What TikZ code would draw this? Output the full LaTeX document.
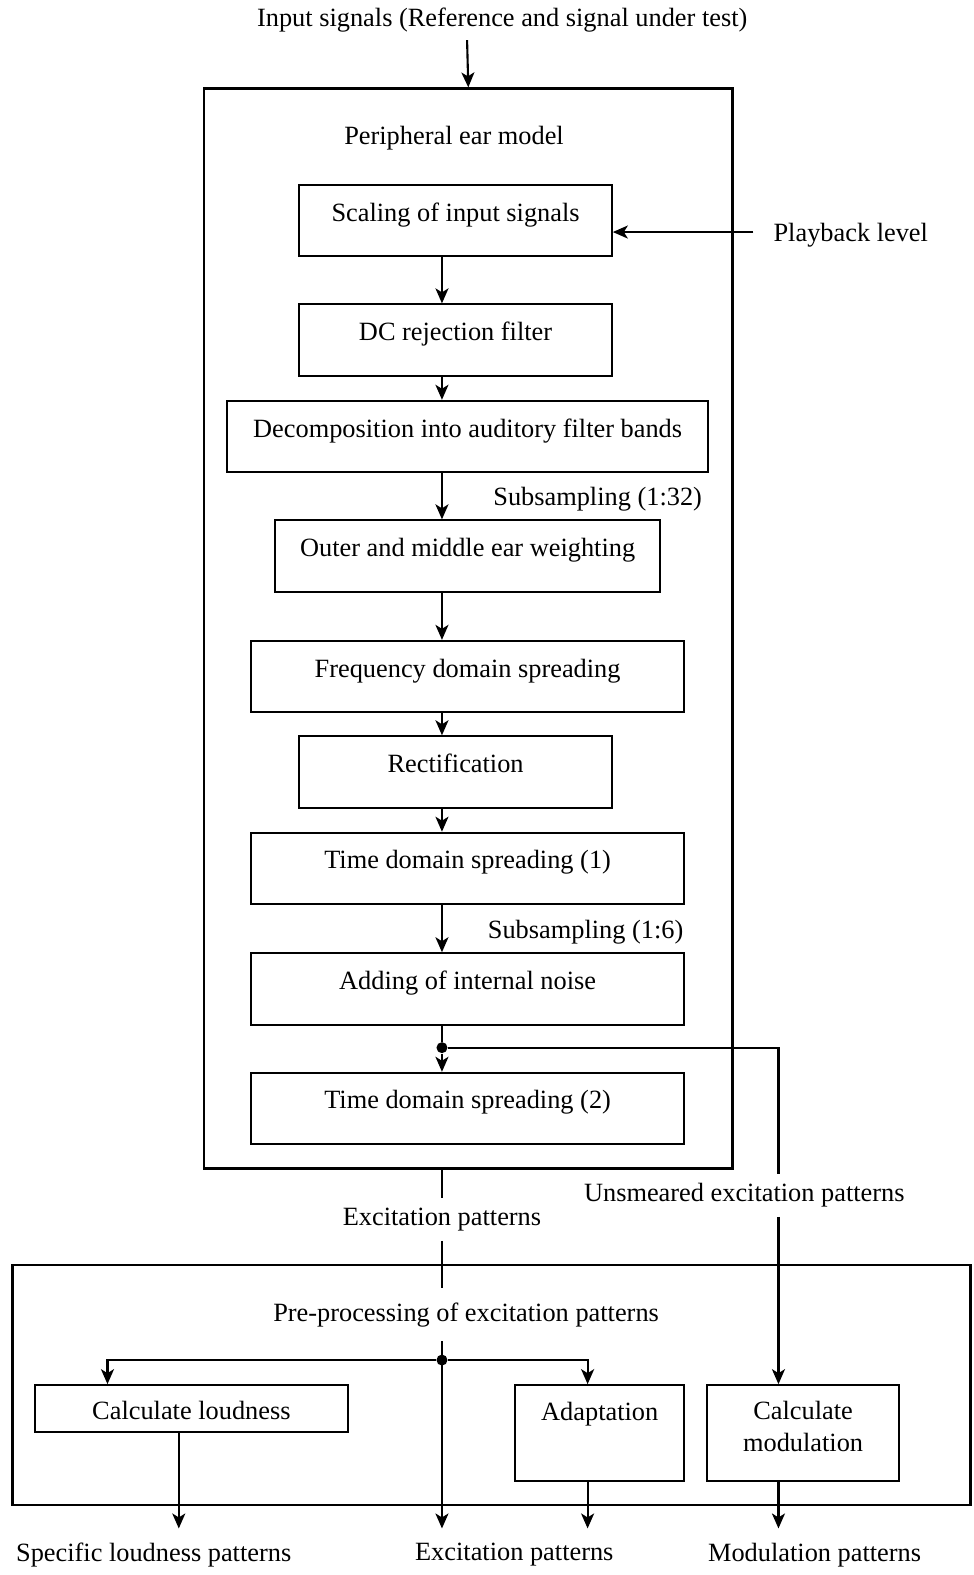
\documentclass[tikz,border=0pt]{standalone}
\usepackage{fontspec}
\setmainfont{Liberation Serif}
\usetikzlibrary{arrows.meta, positioning, calc}

\newcommand{\px}{0.0201cm}

\begin{document}
\begin{tikzpicture}[x=0.0201cm, y=-0.0201cm,
        font=\fontsize{15}{18}\selectfont,
        blk/.style={draw, line width=1.2pt, inner sep=0pt, anchor=north west,
                    text height=36*\px, text depth=35*\px},
        frame/.style={draw, line width=1.4pt, inner sep=0pt, anchor=north west},
        lbl/.style={inner sep=0pt},
        arr/.style={-{Stealth[length=0.3cm, width=0.26cm, inset=0.08cm]}, line width=1.2pt},
        ln/.style={line width=1.2pt},
        dot/.style={circle, fill, inner sep=0pt, minimum size=0.22cm}
    ]
    \useasboundingbox (0,0) rectangle (969,1568);

    % peripheral ear model
    \node[lbl] (title) at (500,20) {Input signals (Reference and signal under test)};
    \node[frame, minimum width=526*\px, minimum height=1075*\px] (outer) at (202,87) {};
    \node[lbl] (pem) at (452,138) {Peripheral ear model};

    \node[blk, minimum width=311*\px] (scale)  at (297,183)  {Scaling of input signals};
    \node[blk, minimum width=311*\px] (dc)     at (297,302)  {DC rejection filter};
    \node[blk, minimum width=479*\px] (decomp) at (225,398)  {Decomposition into auditory filter bands};
    \node[blk, minimum width=383*\px] (ome)    at (273,517)  {Outer and middle ear weighting};
    \node[blk, minimum width=431*\px] (fds)    at (249,637)  {Frequency domain spreading};
    \node[blk, minimum width=311*\px] (rect)   at (297,732)  {Rectification};
    \node[blk, minimum width=431*\px] (tds1)   at (249,828)  {Time domain spreading (1)};
    \node[blk, minimum width=431*\px] (noise)  at (249,948)  {Adding of internal noise};
    \node[blk, minimum width=431*\px] (tds2)   at (249,1067) {Time domain spreading (2)};

    \node[lbl] (pb)   at (847,234) {Playback level};
    \node[lbl] (sub1) at (595,497) {Subsampling (1:32)};
    \node[lbl] (sub2) at (583,928) {Subsampling (1:6)};

    \coordinate (spine)   at (440,0);
    \coordinate (inTop)   at (465,40);
    \coordinate (pbStart) at (750,231);

    \draw[arr] (inTop) -- (outer.north);
    \draw[arr] (pbStart) -- (scale.east |- pbStart);
    \draw[arr] (scale.south -| spine)  -- (dc.north -| spine);
    \draw[arr] (dc.south -| spine)     -- (decomp.north -| spine);
    \draw[arr] (decomp.south -| spine) -- (ome.north -| spine);
    \draw[arr] (ome.south -| spine)    -- (fds.north -| spine);
    \draw[arr] (fds.south -| spine)    -- (rect.north -| spine);
    \draw[arr] (rect.south -| spine)   -- (tds1.north -| spine);
    \draw[arr] (tds1.south -| spine)   -- (noise.north -| spine);

    \node[dot] (j1) at (440,1043) {};
    \coordinate (rbr) at (775,1043);
    \draw[ln]  (noise.south -| spine) -- (j1);
    \draw[arr] (j1) -- (tds2.north -| spine);

    % links between the two stages
    \node[lbl, minimum height=42*\px] (unsm) at (741,1190) {Unsmeared excitation patterns};
    \node[lbl, minimum height=42*\px] (exc)  at (440,1214) {Excitation patterns};
    \draw[ln] (j1) -- (rbr) -- (rbr |- unsm.north);
    \draw[ln] (outer.south -| spine) -- (exc.north);

    % pre-processing
    \node[frame, minimum width=954*\px, minimum height=239*\px] (pp) at (11,1258) {};
    \node[lbl, minimum height=52*\px] (pre) at (464,1309) {Pre-processing of excitation patterns};
    \draw[ln] (exc.south) -- (pre.north -| spine);

    \node[blk, minimum width=311*\px, text height=34*\px, text depth=13*\px] (loud) at (34,1378) {Calculate loudness};
    \node[blk, minimum width=168*\px, text height=35*\px, text depth=60*\px] (adapt) at (512,1378) {Adaptation};
    \node[blk, minimum width=191*\px, text height=66*\px, text depth=29*\px, align=center] (calcmod) at (703,1378) {Calculate\\modulation};

    \node[lbl, minimum height=52*\px] (outspec) at (153,1548) {Specific loudness patterns};
    \node[lbl, minimum height=52*\px] (outexc)  at (512,1548) {Excitation patterns};
    \node[lbl, minimum height=52*\px] (outmod)  at (811,1548) {Modulation patterns};

    \node[dot] (j2) at (440,1354) {};
    \coordinate (brL)  at (107,1354);
    \coordinate (brR)  at (585,1354);
    \coordinate (colL) at (178,0);

    \draw[arr] (rbr |- unsm.south) -- (calcmod.north -| rbr);
    \draw[arr] (pre.south -| spine) -- (outexc.north -| spine);
    \draw[arr] (j2) -- (brL) -- (brL |- loud.north);
    \draw[arr] (j2) -- (brR) -- (brR |- adapt.north);
    \draw[arr] (loud.south -| colL) -- (outspec.north -| colL);
    \draw[arr] (adapt.south -| brR) -- (outexc.north -| brR);
    \draw[arr] (calcmod.south -| rbr) -- (outmod.north -| rbr);
\end{tikzpicture}
\end{document}
